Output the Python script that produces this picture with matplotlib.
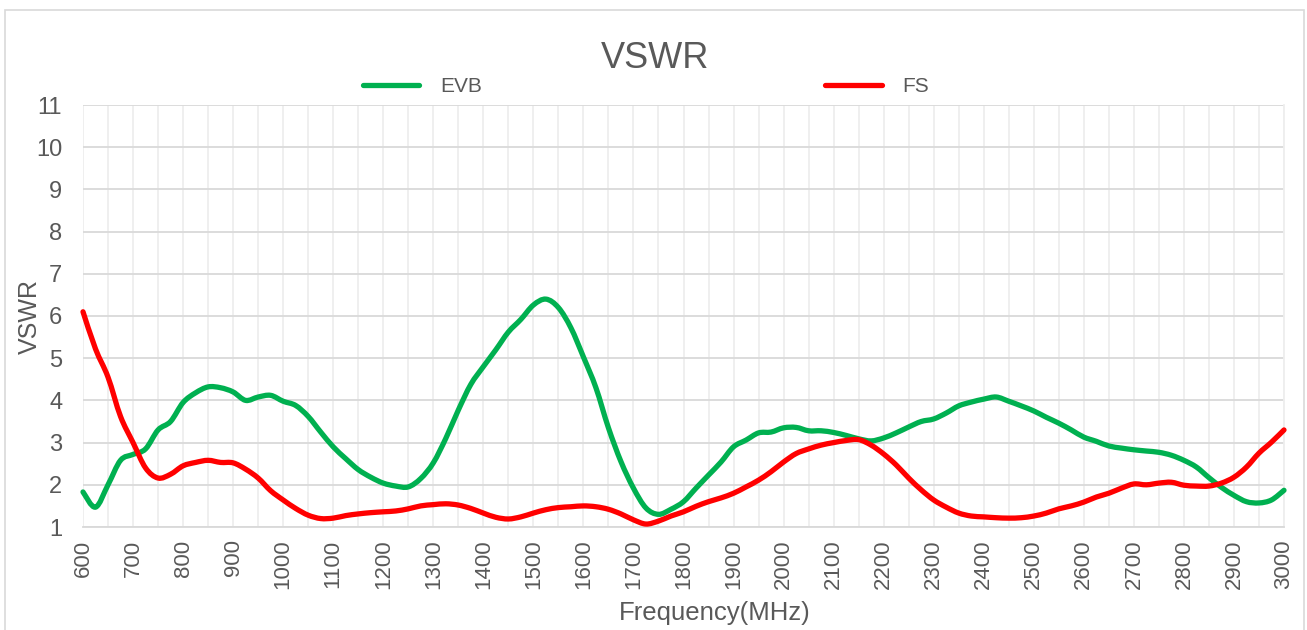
import matplotlib
matplotlib.use("Agg")
import matplotlib.pyplot as plt
from matplotlib.patches import Rectangle, PathPatch
from matplotlib.path import Path
from matplotlib.lines import Line2D
import numpy as np

# frequency grid (MHz) and VSWR values
freq = list(range(600, 3001, 25))

evb = [1.83, 1.47, 2.00, 2.58, 2.72, 2.85, 3.30, 3.50, 3.95, 4.18,
       4.32, 4.30, 4.20, 4.00, 4.08, 4.12, 3.98, 3.88, 3.62, 3.25,
       2.90, 2.62, 2.36, 2.18, 2.04, 1.97, 1.95, 2.15, 2.52, 3.10,
       3.77, 4.38, 4.80, 5.20, 5.62, 5.92, 6.26, 6.40, 6.20, 5.72,
       5.03, 4.30, 3.35, 2.55, 1.92, 1.45, 1.30, 1.42, 1.60, 1.92,
       2.23, 2.54, 2.90, 3.06, 3.23, 3.25, 3.35, 3.36, 3.28, 3.28,
       3.24, 3.17, 3.09, 3.04, 3.11, 3.23, 3.37, 3.50, 3.56, 3.70,
       3.87, 3.96, 4.03, 4.08, 3.98, 3.87, 3.75, 3.60, 3.46, 3.30,
       3.13, 3.03, 2.92, 2.87, 2.83, 2.80, 2.77, 2.70, 2.58, 2.42,
       2.17, 1.94, 1.75, 1.60, 1.57, 1.64, 1.87]

fs = [6.10, 5.22, 4.55, 3.62, 3.00, 2.40, 2.16, 2.25, 2.45, 2.53,
      2.58, 2.53, 2.52, 2.37, 2.16, 1.86, 1.64, 1.44, 1.28, 1.20,
      1.21, 1.27, 1.31, 1.34, 1.36, 1.38, 1.43, 1.50, 1.53, 1.55,
      1.52, 1.44, 1.33, 1.23, 1.19, 1.24, 1.33, 1.41, 1.46, 1.48,
      1.50, 1.48, 1.42, 1.31, 1.17, 1.07, 1.14, 1.26, 1.36, 1.49,
      1.60, 1.69, 1.80, 1.95, 2.11, 2.31, 2.54, 2.74, 2.85, 2.94,
      3.00, 3.05, 3.07, 2.94, 2.73, 2.47, 2.16, 1.88, 1.64, 1.47,
      1.33, 1.26, 1.24, 1.22, 1.21, 1.22, 1.26, 1.33, 1.43, 1.50,
      1.59, 1.71, 1.80, 1.92, 2.02, 2.00, 2.04, 2.06, 1.99, 1.97,
      1.97, 2.04, 2.18, 2.42, 2.75, 3.01, 3.30]

xticks = list(range(600, 3001, 100))
yticks = list(range(1, 12))

plt.rcParams['font.family'] = ['Liberation Sans', 'DejaVu Sans']
txt = '#595959'


def smooth_path(x, y):
    # Excel-style smoothed line: cubic bezier through every data point
    x = np.asarray(x, float)
    y = np.asarray(y, float)
    verts = [(x[0], y[0])]
    codes = [Path.MOVETO]
    n = len(x)
    for i in range(n - 1):
        x0, y0 = (x[i - 1], y[i - 1]) if i > 0 else (x[i], y[i])
        x3, y3 = (x[i + 2], y[i + 2]) if i + 2 < n else (x[i + 1], y[i + 1])
        c1 = (x[i] + (x[i + 1] - x0) / 6, y[i] + (y[i + 1] - y0) / 6)
        c2 = (x[i + 1] - (x3 - x[i]) / 6, y[i + 1] - (y3 - y[i]) / 6)
        verts += [c1, c2, (x[i + 1], y[i + 1])]
        codes += [Path.CURVE4] * 3
    return Path(verts, codes)


fig = plt.figure(figsize=(13.07, 6.30), dpi=100)
ax = fig.add_axes([83/1307, 1 - 527/630, (1284 - 83)/1307, (527 - 105)/630])

# outer chart border
fig.patches.append(Rectangle((5/1307, -0.01), 1299/1307, 1 - 10/630 + 0.01,
                             transform=fig.transFigure, fill=False,
                             edgecolor='#d9d9d9', linewidth=1.2))

series = [('EVB', evb, '#00b050'), ('FS', fs, '#ff0000')]
handles = []
for name, vals, col in series:
    ax.add_patch(PathPatch(smooth_path(freq, vals), fill=False, edgecolor=col,
                           lw=3.8, capstyle='round', joinstyle='round',
                           clip_on=False, zorder=3))
    handles.append(Line2D([], [], color=col, lw=3.8, solid_capstyle='round',
                          label=name))

ax.set_xlim(600, 3000)
ax.set_ylim(1, 11)
ax.set_xticks(xticks)
ax.set_xticks(list(range(650, 3000, 100)), minor=True)
ax.set_yticks(yticks)
ax.set_xticklabels([str(v) for v in xticks], rotation=90, fontsize=16, color=txt)
ax.set_yticklabels([str(v) for v in yticks], fontsize=17, color=txt)
ax.tick_params(axis='both', which='both', length=0)
ax.tick_params(axis='x', pad=9)
ax.tick_params(axis='y', pad=15)

ax.grid(axis='y', color='#d9d9d9', lw=1.3)
ax.grid(axis='x', which='both', color='#eeeeee', lw=1.3)
ax.set_axisbelow(True)
for s in ['top', 'left']:
    ax.spines[s].set_visible(False)
ax.spines['right'].set_color('#eeeeee')
ax.spines['right'].set_linewidth(1.3)
ax.spines['bottom'].set_color('#d9d9d9')
ax.spines['bottom'].set_linewidth(1.3)

ax.set_xlabel('Frequency(MHz)', fontsize=18.5, color=txt)
ax.xaxis.set_label_coords((715 - 83) / 1201, -(613 - 527) / 422,
                          transform=ax.transAxes)
ax.xaxis.label.set_va('center')
ax.set_ylabel('VSWR', fontsize=18, color=txt)
ax.yaxis.set_label_coords(-(83 - 30) / 1201, 0.5)
ax.yaxis.label.set_va('center')

fig.text(655/1307, 1 - 59/630, 'VSWR', fontsize=26, color=txt,
         ha='center', va='center')

ax.legend(handles=handles, loc='center', bbox_to_anchor=(646/1307, 1 - 87/630),
          bbox_transform=fig.transFigure, ncol=2, frameon=False,
          fontsize=15, labelcolor=txt, handlelength=2.7, handletextpad=1.0,
          columnspacing=16.5)

fig.savefig('out.png', dpi=100)
